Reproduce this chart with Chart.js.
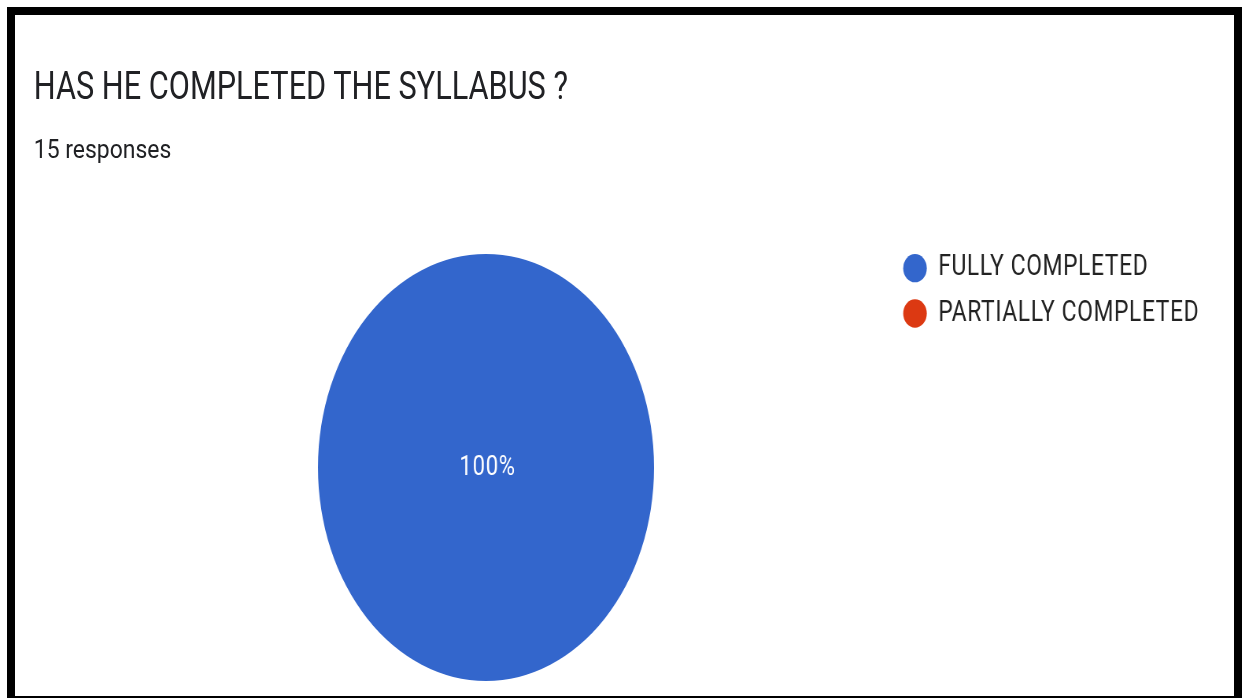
<!DOCTYPE html>
<html>
<head>
<meta charset="utf-8">
<script src="https://cdn.jsdelivr.net/npm/chart.js@4.4.0/dist/chart.umd.min.js"></script>
<style>
  html, body { margin: 0; padding: 0; background: #fff; overflow: hidden; }
  body { width: 1242px; height: 698px; position: relative; }
  .squash { position: absolute; left: 0; top: 0; width: 1578px; height: 700px; transform: scaleX(0.787); transform-origin: 0 0; }
  .title { position: absolute; left: 43px; top: 67px; font-family: Roboto, sans-serif; font-size: 39px; line-height: 39px; color: #202124; white-space: nowrap; }
  .subtitle { position: absolute; left: 43px; top: 136px; font-family: Roboto, sans-serif; font-size: 26px; line-height: 26px; color: #202124; white-space: nowrap; transform: scaleX(1.12); transform-origin: 0 0; }
  #chart { position: absolute; left: 0; top: 0; }
  .frame { position: absolute; left: 7px; top: 7px; width: 1235px; height: 691px; box-sizing: border-box; border: 8px solid #000; border-bottom-width: 2px; }
</style>
</head>
<body>
<div class="squash">
  <div class="title">HAS HE COMPLETED THE SYLLABUS ?</div>
  <div class="subtitle">15 responses</div>
  <canvas id="chart" width="1578" height="700"></canvas>
</div>
<div class="frame"></div>
<script>
const answers = ['FULLY COMPLETED', 'PARTIALLY COMPLETED'];
const responses = [15, 0];
const sliceColors = ['#3366cc', '#dc3912'];

// slightly wider lettering, like the screenshot
const spacing = {
    id: 'spacing',
    beforeUpdate(chart) {
        chart.ctx.letterSpacing = '0.8px';
    }
};

// white percentage text on each slice
const sliceLabels = {
    id: 'sliceLabels',
    afterDatasetsDraw(chart) {
        const ctx = chart.ctx;
        const meta = chart.getDatasetMeta(0);
        const total = responses.reduce((a, b) => a + b, 0);
        ctx.save();
        ctx.fillStyle = '#ffffff';
        ctx.font = '28px Roboto, sans-serif';
        ctx.letterSpacing = '1px';
        ctx.textAlign = 'center';
        ctx.textBaseline = 'middle';
        meta.data.forEach((arc, i) => {
            if (!responses[i]) return;
            const pct = Math.round(responses[i] / total * 100);
            const pos = pct === 100 ? { x: arc.x, y: arc.y } : arc.tooltipPosition();
            ctx.fillText(pct + '%', pos.x + 2, pos.y);
        });
        ctx.restore();
    }
};

const chart = new Chart(document.getElementById('chart'), {
    type: 'pie',
    data: {
        labels: answers,
        datasets: [{
            data: responses,
            backgroundColor: sliceColors,
            borderWidth: 0
        }]
    },
    options: {
        responsive: false,
        animation: false,
        radius: 213.5,
        layout: {
            padding: { left: 103.7, right: 44.2, top: 237.4, bottom: 2.4 }
        },
        plugins: {
            tooltip: { enabled: false },
            legend: {
                position: 'right',
                align: 'start',
                labels: {
                    usePointStyle: true,
                    pointStyle: 'circle',
                    boxHeight: 20,
                    pointStyleWidth: 30,
                    padding: 16.3,
                    color: '#222222',
                    font: { family: 'Roboto, sans-serif', size: 29 }
                }
            }
        }
    },
    plugins: [spacing, sliceLabels]
});
</script>
</body>
</html>
